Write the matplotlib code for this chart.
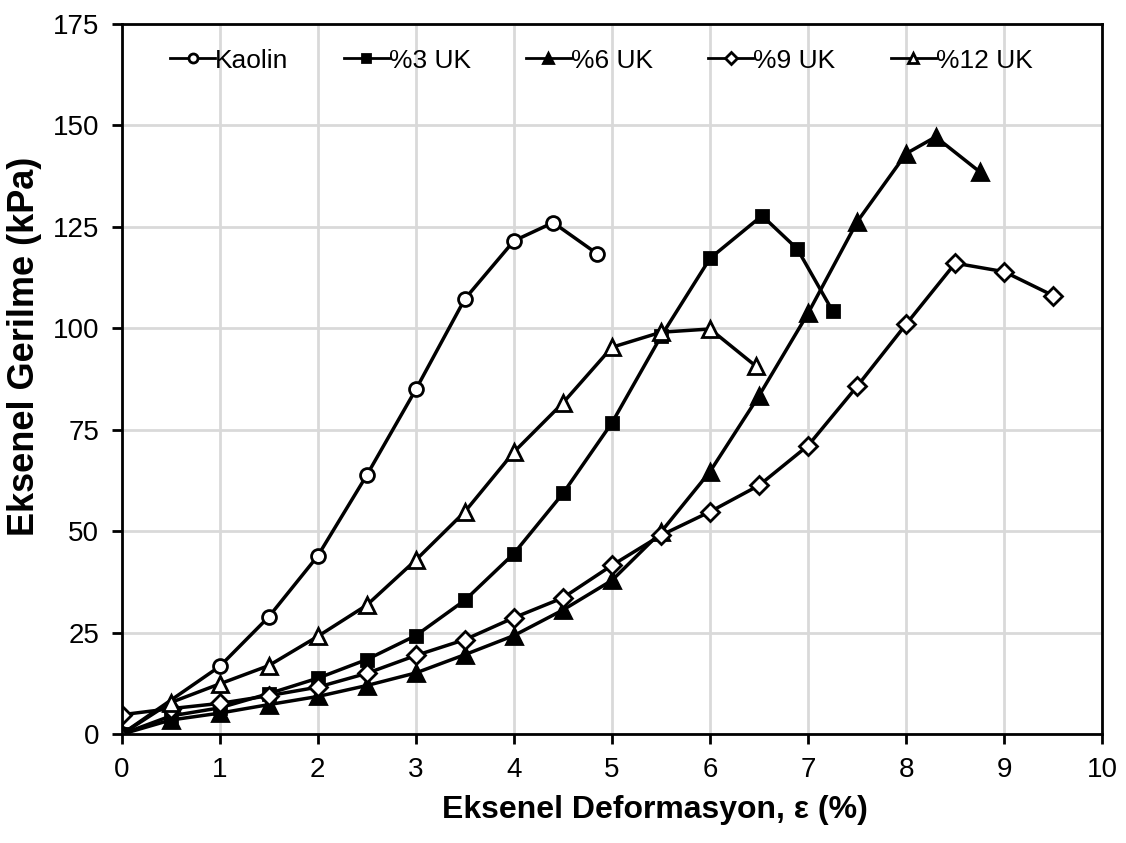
import matplotlib
matplotlib.use("Agg")
import matplotlib.pyplot as plt

plt.rcParams['font.family'] = ['Liberation Sans', 'DejaVu Sans']

# Eksenel deformasyon (%) - eksenel gerilme (kPa)
kaolin_x = [0, 1, 1.5, 2, 2.5, 3, 3.5, 4, 4.4, 4.85]
kaolin_y = [0, 16.7, 28.9, 43.9, 63.8, 84.9, 107.2, 121.5, 126.0, 118.3]

uk3_x = [0, 0.5, 1, 1.5, 2, 2.5, 3, 3.5, 4, 4.5, 5, 5.5, 6, 6.53, 6.89, 7.25]
uk3_y = [0, 4.5, 6.5, 10.0, 13.8, 18.4, 24.3, 33.0, 44.5, 59.3, 76.7, 98.0,
         117.2, 127.7, 119.5, 104.2]

uk6_x = [0, 0.5, 1, 1.5, 2, 2.5, 3, 3.5, 4, 4.5, 5, 5.5, 6, 6.5, 7, 7.5, 8,
         8.3, 8.75]
uk6_y = [0, 3.5, 5.2, 7.3, 9.3, 12.0, 15.1, 19.6, 24.3, 30.6, 37.9, 49.8,
         64.7, 83.4, 103.7, 126.2, 143.0, 147.1, 138.5]

uk9_x = [0, 0.5, 1, 1.5, 2, 2.5, 3, 3.5, 4, 4.5, 5, 5.5, 6, 6.5, 7, 7.5, 8,
         8.5, 9, 9.5]
uk9_y = [4.8, 6.3, 7.6, 9.5, 11.6, 15.0, 19.4, 23.3, 28.7, 33.6, 41.6, 49.0,
         54.8, 61.3, 71.1, 85.7, 101.0, 116.0, 113.9, 108.0]

uk12_x = [0, 0.5, 1, 1.5, 2, 2.5, 3, 3.5, 4, 4.5, 5, 5.5, 6, 6.47]
uk12_y = [0, 7.8, 12.4, 16.9, 24.1, 31.8, 42.9, 54.8, 69.5, 81.6, 95.3, 99.0,
          99.8, 90.6]

x_ticks = list(range(0, 11))
y_ticks = [0, 25, 50, 75, 100, 125, 150, 175]

fig = plt.figure(figsize=(11.26, 8.43), dpi=100)
ax = fig.add_axes([0.108, 0.129, 0.871, 0.843])

common = dict(color='black', lw=2.5, mec='black', mew=2)
ax.plot(kaolin_x, kaolin_y, marker='o', ms=10, mfc='white', label='Kaolin', **common)
ax.plot(uk3_x, uk3_y, marker='s', ms=8, mfc='black', label='%3 UK', **common)
ax.plot(uk6_x, uk6_y, marker='^', ms=11, mfc='black', label='%6 UK', **common)
ax.plot(uk9_x, uk9_y, marker='D', ms=9, mfc='white', label='%9 UK', **common)
ax.plot(uk12_x, uk12_y, marker='^', ms=11, mfc='white', label='%12 UK', **common)

ax.set_xlim(0, 10)
ax.set_ylim(0, 175)
ax.set_xticks(x_ticks)
ax.set_yticks(y_ticks)
ax.grid(True, color='#d9d9d9', lw=2)
ax.set_axisbelow(True)
for s in ax.spines.values():
    s.set_linewidth(2)
    s.set_color('black')
ax.tick_params(axis='both', labelsize=20, length=7.2, width=2, direction='out', pad=9)

ax.set_xlabel('Eksenel Deformasyon, ε (%)', fontsize=23, fontweight='bold')
ax.xaxis.label.set_va('center')
ax.xaxis.set_label_coords(0.544, -0.107)
ax.set_ylabel('Eksenel Gerilme (kPa)', fontsize=26, fontweight='bold')
ax.yaxis.label.set_va('center')
ax.yaxis.set_label_coords(-0.099, 0.546)

leg = ax.legend(loc='center', ncol=5, frameon=False, fontsize=19,
                handlelength=1.7, handletextpad=0.0, columnspacing=2.1,
                markerscale=0.65, bbox_to_anchor=(0.489, 0.948))
for h in leg.legend_handles:
    h.set_linewidth(2)

fig.savefig('out.png', dpi=100)
